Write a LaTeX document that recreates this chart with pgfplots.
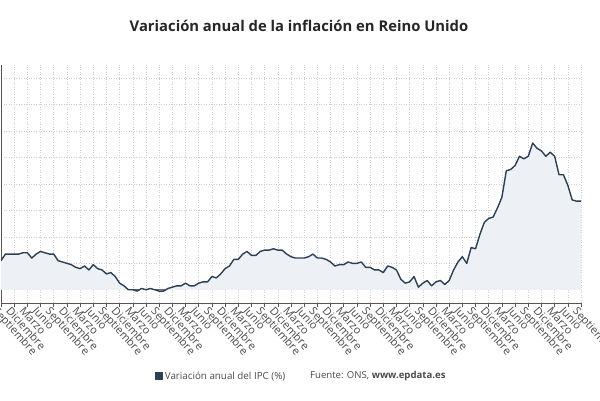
\documentclass[border=0pt]{standalone}
\usepackage{pgfplots}
\usepackage{pgfplotstable}
\pgfplotsset{compat=1.18}
\usepackage{fontspec}
\setmainfont{Open Sans}
\definecolor{linec}{HTML}{2B3F55}
\definecolor{fillc}{HTML}{EDF0F4}
\definecolor{gridc}{HTML}{CFCFCF}
\definecolor{axc}{HTML}{555555}
\definecolor{txtc}{HTML}{4A4A4A}
\pgfplotstableread{
x y
0 2.2
1 2.7
2 2.7
3 2.7
4 2.7
5 2.8
6 2.8
7 2.4
8 2.7
9 2.9
10 2.8
11 2.7
12 2.7
13 2.2
14 2.1
15 2.0
16 1.9
17 1.7
18 1.6
19 1.8
20 1.5
21 1.9
22 1.6
23 1.5
24 1.2
25 1.3
26 1.0
27 0.5
28 0.3
29 0.0
30 0.0
31 -0.1
32 0.1
33 0.0
34 0.1
35 0.0
36 -0.1
37 -0.1
38 0.1
39 0.2
40 0.3
41 0.3
42 0.5
43 0.3
44 0.3
45 0.5
46 0.6
47 0.6
48 1.0
49 0.9
50 1.2
51 1.6
52 1.8
53 2.3
54 2.3
55 2.7
56 2.9
57 2.6
58 2.6
59 2.9
60 3.0
61 3.0
62 3.1
63 3.0
64 3.0
65 2.7
66 2.5
67 2.4
68 2.4
69 2.4
70 2.5
71 2.7
72 2.4
73 2.4
74 2.3
75 2.1
76 1.8
77 1.9
78 1.9
79 2.1
80 2.0
81 2.0
82 2.1
83 1.7
84 1.7
85 1.5
86 1.5
87 1.3
88 1.8
89 1.7
90 1.5
91 0.8
92 0.5
93 0.6
94 1.0
95 0.2
96 0.5
97 0.7
98 0.3
99 0.6
100 0.7
101 0.4
102 0.7
103 1.5
104 2.1
105 2.5
106 2.0
107 3.2
108 3.1
109 4.2
110 5.1
111 5.4
112 5.5
113 6.2
114 7.0
115 9.0
116 9.1
117 9.4
118 10.1
119 9.9
120 10.1
121 11.1
122 10.7
123 10.5
124 10.1
125 10.4
126 10.1
127 8.7
128 8.7
129 7.9
130 6.8
131 6.7
132 6.7
}\ipcdata
\begin{document}
\begin{tikzpicture}
\path[use as bounding box] (0,0) rectangle (600pt,400pt);
\begin{axis}[
  at={(1pt,97pt)}, anchor=south west,
  scale only axis, width=580pt, height=238pt,
  xmin=0, xmax=132, ymin=-1, ymax=17,
  axis x line*=bottom, axis y line*=left,
  axis line style={axc, line width=0.8pt},
  xtick={0,3,...,132},
  xticklabels={Septiembre,Diciembre,Marzo,Junio,Septiembre,Diciembre,Marzo,Junio,Septiembre,Diciembre,Marzo,Junio,Septiembre,Diciembre,Marzo,Junio,Septiembre,Diciembre,Marzo,Junio,Septiembre,Diciembre,Marzo,Junio,Septiembre,Diciembre,Marzo,Junio,Septiembre,Diciembre,Marzo,Junio,Septiembre,Diciembre,Marzo,Junio,Septiembre,Diciembre,Marzo,Junio,Septiembre,Diciembre,Marzo,Junio,Septiembre},
  xticklabel style={rotate=-48, anchor=north west, font=\fontsize{11}{12}\selectfont, text=txtc, inner sep=1pt, xshift=-3.5pt},
  tick align=outside, major tick length=4pt,
  xtick style={axc, line width=0.6pt},
  ytick={2,4,...,16}, yticklabels={}, ytick style={draw=none},
  extra y ticks={0}, extra y tick labels={},
  extra y tick style={grid=major, major grid style={solid, axc, line width=0.9pt}, tick style={draw=none}},
  xmajorgrids, ymajorgrids,
  major grid style={gridc, dash pattern=on 1pt off 1.5pt, line width=0.5pt},
  legend style={at={(0.265,-0.307)}, anchor=west, draw=none, fill=none, font=\fontsize{9.8}{11}\selectfont\color{txtc}, inner sep=0pt},
  legend cell align=left,
]
\addplot[draw=none, fill=fillc, forget plot] table[x=x,y=y] {\ipcdata} \closedcycle;
\addplot[linec, line width=1.4pt, line join=round,
  legend image code/.code={\fill[linec] (0pt,-3.3pt) rectangle (6.6pt,3.3pt);}] table[x=x,y=y] {\ipcdata};
\addlegendentry{Variación anual del IPC (\%)}
\end{axis}
\node[anchor=west, inner sep=0pt, text=txtc, font=\fontsize{9.6}{11}\selectfont] at (310pt,24pt) {Fuente: ONS, \textbf{www.epdata.es}};
\node[anchor=center, inner sep=0pt, text=black!85, font=\fontsize{14.8}{16}\selectfont\bfseries] at (299pt,374pt) {Variación anual de la inflación en Reino Unido};
\end{tikzpicture}
\end{document}
